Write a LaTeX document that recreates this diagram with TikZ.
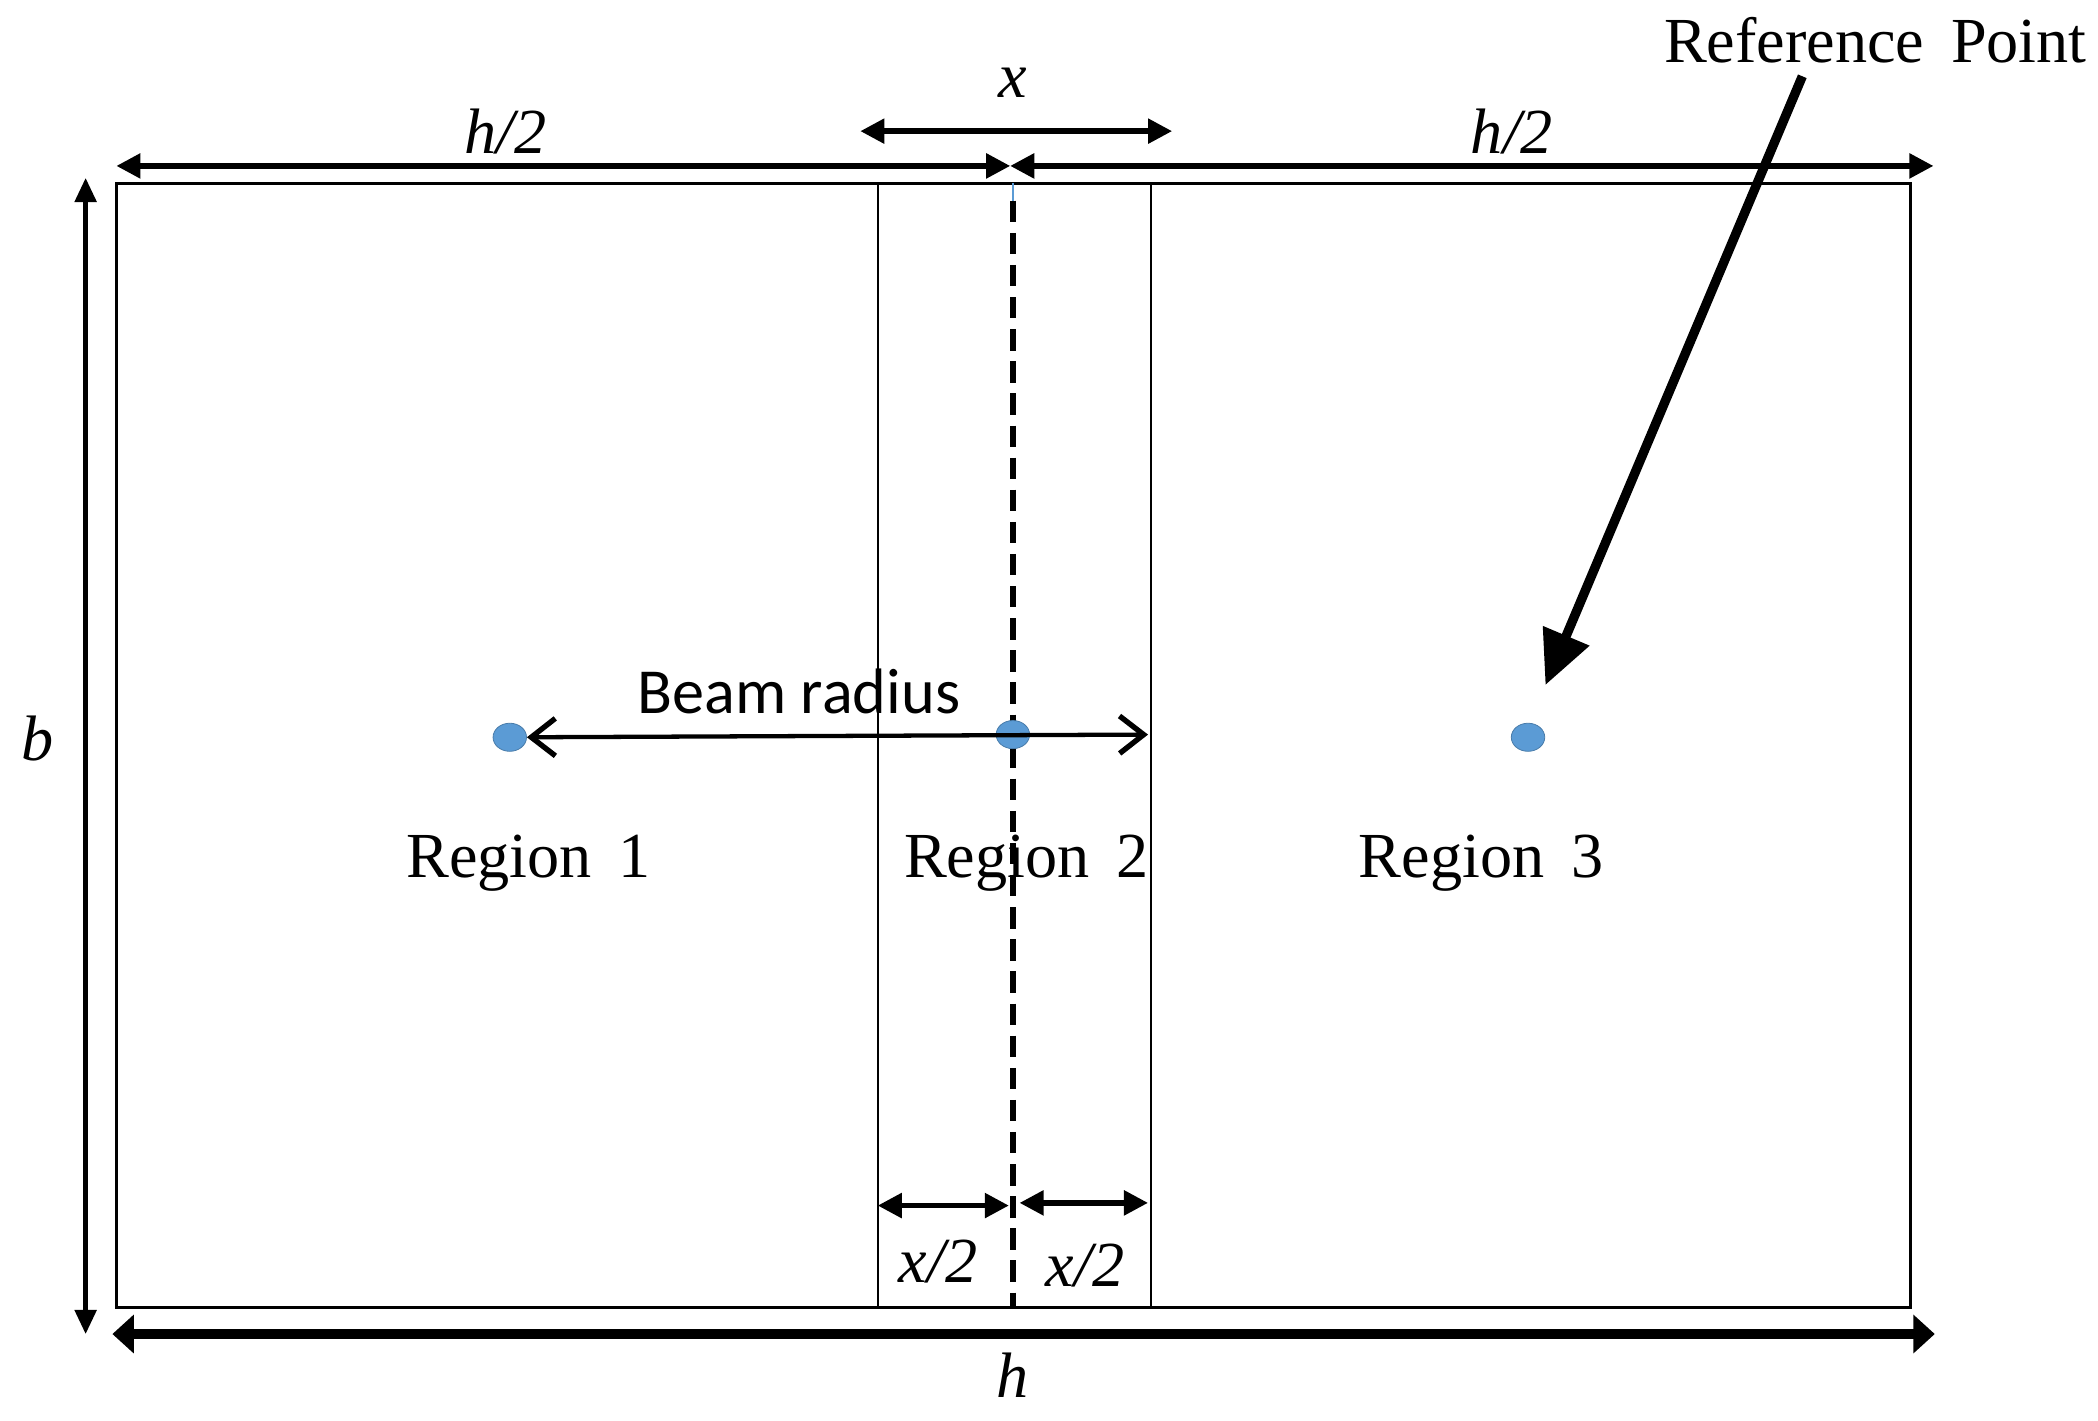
\documentclass[tikz,border=0pt]{standalone}
\usepackage{fontspec}
\setmainfont{Liberation Serif}
\newfontfamily\beamfont{Carlito}
\usetikzlibrary{arrows.meta,shapes.geometric,calc}
\definecolor{dotblue}{HTML}{5B9BD5}
\tikzset{
  frame/.style={line width=1.1pt,draw=black},
  dimarrow/.style={line width=2pt,{Triangle[length=9pt,width=9pt]}-{Triangle[length=9pt,width=9pt]}},
  dimlabel/.style={font=\fontsize{24}{28}\selectfont\itshape,inner sep=0pt},
  reglabel/.style={font=\fontsize{24}{28}\selectfont,inner sep=0pt},
  bluedot/.style={ellipse,fill=dotblue,draw=dotblue!80!black,line width=0.3pt,minimum width=12.5pt,minimum height=10.5pt,inner sep=0pt},
}
\begin{document}
\begin{tikzpicture}[x=0.5pt,y=-0.5pt]
\useasboundingbox (0,0) rectangle (1568,1062);
% coordinates
\coordinate (TL) at (87,137);
\coordinate (BR) at (1428,977);
\coordinate (v1t) at (656,137); \coordinate (v1b) at (656,977);
\coordinate (v2t) at (860,137); \coordinate (v2b) at (860,977);
\coordinate (ct) at (757,150); \coordinate (cb) at (757,977);
\coordinate (ctop) at (757,137);
% frame
\draw[frame] (TL) rectangle (BR);
\draw[line width=0.9pt] (v1t) -- (v1b);
\draw[line width=0.9pt] (v2t) -- (v2b);
\draw[dotblue,line width=1pt] (ctop) -- (ct);
\draw[line width=2pt,dash pattern=on 8pt off 4pt] (ct) -- (cb);
% top dims
\coordinate (hl) at (87,124); \coordinate (hm) at (755,124); \coordinate (hr) at (1445,124);
\draw[dimarrow] (hl) -- (hm);
\draw[dimarrow] (hm) -- (hr);
\node[dimlabel] (h2a) at (378,98) {h/2};
\node[dimlabel] (h2b) at (1130,98) {h/2};
\coordinate (xl) at (643,98); \coordinate (xr) at (876,98);
\draw[dimarrow] (xl) -- (xr);
\node[dimlabel] (xlab) at (757,62) {x};
% left b
\coordinate (bt) at (64,133); \coordinate (bb) at (64,997);
\draw[line width=1.6pt,{Triangle[length=9pt,width=8pt]}-{Triangle[length=9pt,width=8pt]}] (bt) -- (bb);
\node[dimlabel] (blab) at (28,552) {b};
% bottom h
\coordinate (bl) at (84,997); \coordinate (brr) at (1446,997);
\draw[line width=3.5pt,{Triangle[length=8pt,width=14pt]}-{Triangle[length=8pt,width=14pt]}] (bl) -- (brr);
\node[dimlabel] (hlab) at (757,1028) {h};
% dots
\node[bluedot] (d1) at (381,551) {};
\node[bluedot] (d2) at (757,549) {};
\node[bluedot] (d3) at (1142,551) {};
% beam radius
\coordinate (be) at (858,549);
\draw[line width=1.6pt,{Straight Barb[length=9pt,width=14pt,line width=2pt]}-{Straight Barb[length=9pt,width=14pt,line width=2pt]}] (d1.east) -- (be);
\node[font=\beamfont\fontsize{24}{28}\selectfont,inner sep=0pt] (beam) at (597,517) {Beam radius};
% region labels
\node[reglabel] (r1) at (395,645) {Region\, 1};
\node[reglabel] (r2) at (767,645) {Region\, 2};
\node[reglabel] (r3) at (1107,645) {Region\, 3};
% x/2 dims
\coordinate (a1) at (656,901); \coordinate (a2) at (754,901);
\coordinate (a3) at (762,899); \coordinate (a4) at (858,899);
\draw[dimarrow] (a1) -- (a2);
\draw[dimarrow] (a3) -- (a4);
\node[dimlabel] (x2a) at (701,943) {x/2};
\node[dimlabel] (x2b) at (811,946) {x/2};
% reference point
\node[reglabel,anchor=east] (ref) at (1560,30) {Reference\, Point};
\coordinate (rs) at (1347,57);
\coordinate (re) at (1155,512);
\draw[line width=3.5pt,-{Triangle[length=20pt,width=18pt]}] (rs) -- (re);
\end{tikzpicture}
\end{document}
